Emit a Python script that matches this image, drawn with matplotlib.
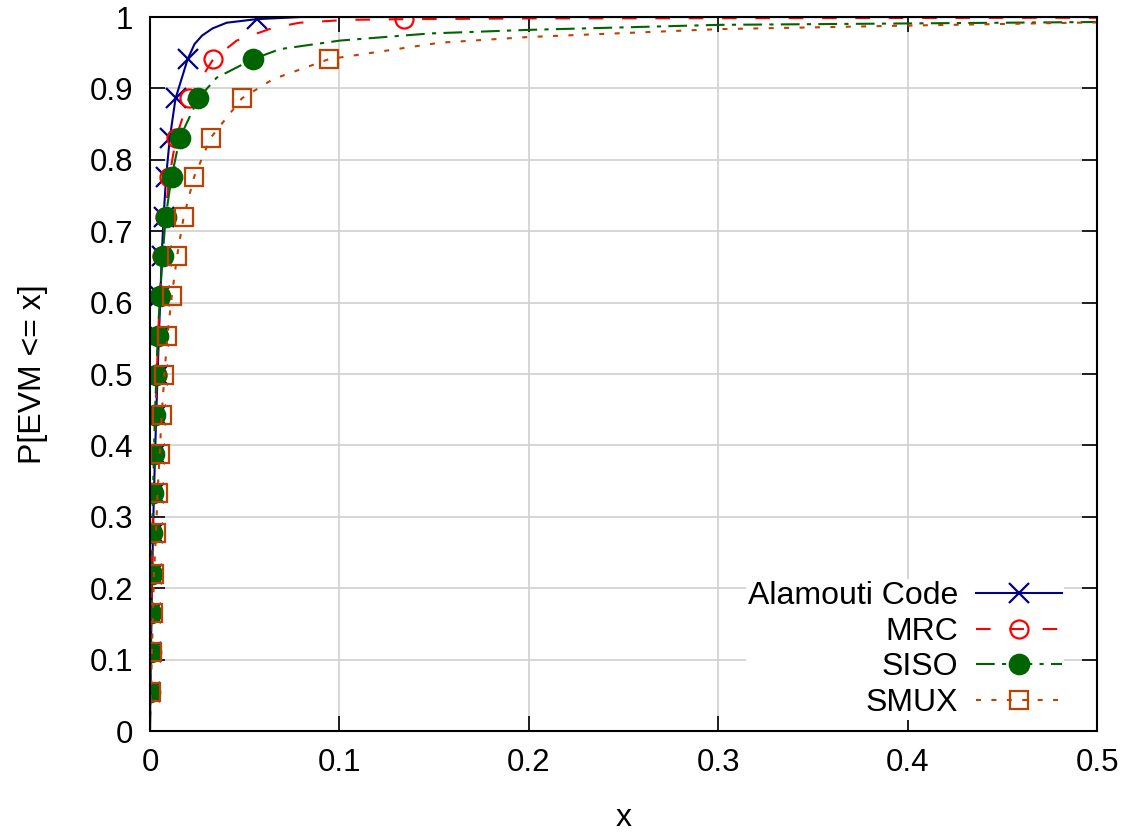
import matplotlib
matplotlib.use("Agg")
import matplotlib.pyplot as plt

plt.rcParams['font.family'] = ['Liberation Sans', 'DejaVu Sans']

# CDF levels where the markers sit
levels = [0.055, 0.11, 0.165, 0.22, 0.277, 0.333, 0.388, 0.443, 0.498,
          0.553, 0.609, 0.665, 0.72, 0.776, 0.831, 0.886, 0.941, 0.997]

# marker x values per series
alamouti_mx = [0.0002, 0.0005, 0.0008, 0.0012, 0.0016, 0.0021, 0.0027, 0.0033, 0.0040,
               0.0047, 0.0055, 0.0062, 0.0072, 0.0085, 0.0105, 0.0135, 0.0199, 0.0563]
mrc_mx = [0.0002, 0.0004, 0.0007, 0.0010, 0.0013, 0.0018, 0.0023, 0.0029, 0.0036,
          0.0043, 0.0052, 0.0063, 0.0080, 0.0102, 0.0138, 0.0205, 0.0334, 0.134]
siso_mx = [0.0002, 0.0004, 0.0006, 0.0009, 0.0012, 0.0016, 0.0021, 0.0026, 0.0034,
           0.0041, 0.0053, 0.0067, 0.0083, 0.0114, 0.0158, 0.0255, 0.0544]
smux_mx = [0.0005, 0.0010, 0.0016, 0.0021, 0.0032, 0.0040, 0.0051, 0.0062, 0.0076,
           0.0092, 0.0115, 0.0143, 0.0178, 0.0233, 0.0321, 0.0485, 0.0945]

# extra points along each curve (between / beyond the markers)
alamouti_ex = [(0.0, 0.0), (0.0235, 0.962), (0.0275, 0.974), (0.033, 0.984),
               (0.0405, 0.992), (0.08, 1.0), (0.5, 1.0)]
mrc_ex = [(0.0, 0.0), (0.0458, 0.967), (0.0651, 0.985), (0.079, 0.992),
          (0.104, 0.996), (0.2, 0.998), (0.5, 0.999)]
siso_ex = [(0.0, 0.0), (0.0352, 0.915), (0.0686, 0.955), (0.1003, 0.967),
           (0.148, 0.977), (0.2, 0.982), (0.3, 0.989), (0.4, 0.991), (0.5, 0.993)]
smux_ex = [(0.0, 0.0), (0.065, 0.913), (0.153, 0.964), (0.2, 0.972),
           (0.3, 0.983), (0.4, 0.988), (0.5, 0.9925)]

labels = ['Alamouti Code', 'MRC', 'SISO', 'SMUX']


def curve(mx, extra):
    pts = list(zip(mx, levels[:len(mx)])) + extra
    pts.sort(key=lambda p: (p[1], p[0]))
    return [p[0] for p in pts], [p[1] for p in pts]


fig = plt.figure(figsize=(11.31, 8.34), dpi=100)
ax = fig.add_axes([0.1326, 0.1235, 0.8374, 0.8561])

styles = [
    dict(color='#00008b', ls='-', marker='x', ms=14, mfc='none'),
    dict(color='#ff0000', ls=(0, (7, 9)), marker='o', ms=13, mfc='none'),
    dict(color='#006400', ls=(0, (9, 3.5, 2, 3.5)), marker='o', ms=14, mfc='#006400'),
    dict(color='#c04000', ls=(0, (2.4, 5)), marker='s', ms=12.5, mfc='none'),
]
series = [(alamouti_mx, alamouti_ex), (mrc_mx, mrc_ex), (siso_mx, siso_ex), (smux_mx, smux_ex)]

handles = []
for (mx, ex), st, lab in zip(series, styles, labels):
    cx, cy = curve(mx, ex)
    ax.plot(cx, cy, color=st['color'], ls=st['ls'], lw=1.5)
    ax.plot(mx, levels[:len(mx)], ls='none', marker=st['marker'], ms=st['ms'],
            mfc=st['mfc'], mec=st['color'], mew=1.6, color=st['color'])
    h, = ax.plot([], [], color=st['color'], ls=st['ls'], lw=1.5, marker=st['marker'],
                 ms=st['ms'], mfc=st['mfc'], mec=st['color'], mew=1.6)
    handles.append(h)

ax.set_xlim(0, 0.5)
ax.set_ylim(0, 1)
ax.set_xticks([0, 0.1, 0.2, 0.3, 0.4, 0.5])
ax.set_xticklabels(['0', '0.1', '0.2', '0.3', '0.4', '0.5'])
ax.set_yticks([i / 10 for i in range(11)])
ax.set_yticklabels(['0', '0.1', '0.2', '0.3', '0.4', '0.5', '0.6', '0.7', '0.8', '0.9', '1'])
ax.tick_params(direction='in', top=True, right=True, length=10.5, width=1.2,
               labelsize=22.5, pad=12)
ax.grid(color='#d0d0d0', lw=1.2)
ax.set_axisbelow(True)
for s in ax.spines.values():
    s.set_linewidth(1.5)

ax.set_xlabel('x', fontsize=23, labelpad=18)
ax.set_ylabel('P[EVM <= x]', fontsize=23, labelpad=30)

leg = ax.legend(handles, labels, loc='lower right', bbox_to_anchor=(0.9647, 0.0157),
                borderaxespad=0, markerfirst=False, fontsize=23, frameon=True,
                facecolor='white', edgecolor='none', framealpha=1, fancybox=False,
                borderpad=0.05, handlelength=2.7, handletextpad=0.56,
                labelspacing=0.18, numpoints=1)

plt.savefig('out.png', dpi=100)
